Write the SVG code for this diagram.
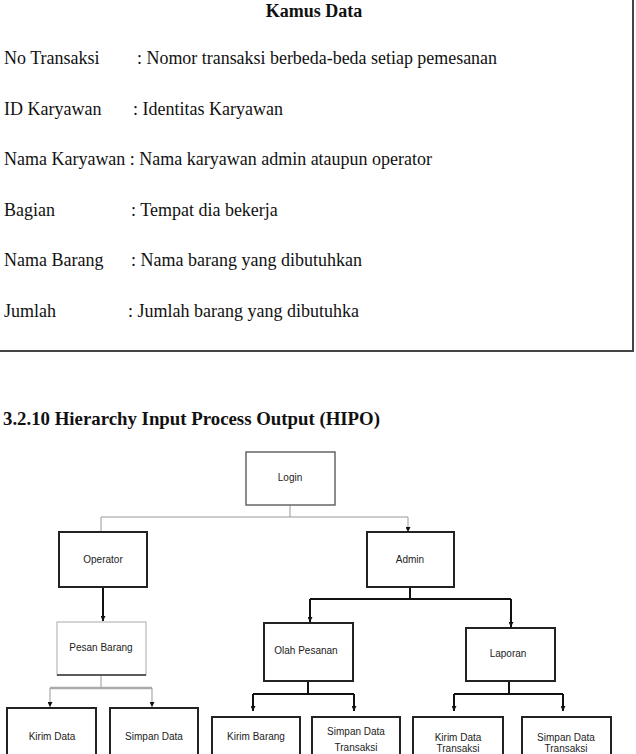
<svg xmlns="http://www.w3.org/2000/svg" width="636" height="754" viewBox="0 0 636 754">
<style>
.kd{font-family:"Liberation Serif","Times New Roman",serif;font-size:18px;fill:#111}
.kdb{font-family:"Liberation Serif","Times New Roman",serif;font-size:18px;font-weight:bold;fill:#111}
.h{font-family:"Liberation Serif",Cambria,serif;font-size:19px;font-weight:bold;fill:#111}
.lb{font-family:"Liberation Sans",Arial,sans-serif;font-size:10px;fill:#222;text-anchor:middle}
.box{fill:#fff;stroke:#222;stroke-width:2}
.thin{fill:#fff;stroke:#666;stroke-width:1.5}
.lt{fill:#fff;stroke:#aaa;stroke-width:1}
.c1{fill:none;stroke:#999;stroke-width:1}
.c2{fill:none;stroke:#111;stroke-width:2}
.c3{fill:none;stroke:#aaa;stroke-width:2.5}
</style>
<defs>
<marker id="ah" viewBox="0 0 10 10" refX="10" refY="5" markerWidth="5" markerHeight="5" markerUnits="userSpaceOnUse" orient="auto">
<path d="M0,0 L10,5 L0,10 z" fill="#111"/>
</marker>
</defs>
<g id="kamus">
<path d="M633,0 V351 H0" fill="none" stroke="#444" stroke-width="2"/>
<text class="kdb" x="314" y="17" text-anchor="middle">Kamus Data</text>
<text class="kd" x="4" y="64">No Transaksi</text>
<text class="kd" x="137" y="64" textLength="360" lengthAdjust="spacingAndGlyphs">: Nomor transaksi berbeda-beda setiap pemesanan</text>
<text class="kd" x="4" y="115">ID Karyawan</text>
<text class="kd" x="133" y="115">:  Identitas Karyawan</text>
<text class="kd" x="4" y="165" textLength="428" lengthAdjust="spacingAndGlyphs">Nama Karyawan : Nama karyawan admin ataupun operator</text>
<text class="kd" x="4" y="216">Bagian</text>
<text class="kd" x="131" y="216">: Tempat dia bekerja</text>
<text class="kd" x="4" y="266">Nama Barang</text>
<text class="kd" x="131" y="266">: Nama barang yang dibutuhkan</text>
<text class="kd" x="4" y="317">Jumlah</text>
<text class="kd" x="128" y="317">: Jumlah barang yang dibutuhka</text>
</g>
<text class="h" x="3" y="425" textLength="377" lengthAdjust="spacingAndGlyphs">3.2.10 Hierarchy Input Process Output (HIPO)</text>
<g id="connectors">
<path class="c1" d="M290,505 V517 M101,517 H408"/>
<path class="c1" d="M101,517 V532 M408,517 V532" marker-end="url(#ah)"/>
<path class="c2" d="M103,587 V621" marker-end="url(#ah)"/>
<path class="c1" d="M101,675 V688"/>
<path class="c3" d="M50,688 H152"/>
<path class="c1" d="M50,688 V707" marker-end="url(#ah)"/>
<path class="c1" d="M152,688 V707" marker-end="url(#ah)"/>
<path class="c2" d="M410,587 V599 M310,599 H511"/>
<path class="c2" d="M310,599 V622" marker-end="url(#ah)"/>
<path class="c2" d="M511,599 V627" marker-end="url(#ah)"/>
<path class="c2" d="M308,681 V694 M253,694 H354"/>
<path class="c2" d="M253,694 V711" marker-end="url(#ah)"/>
<path class="c2" d="M354,694 V711" marker-end="url(#ah)"/>
<path class="c2" d="M509,681 V694 M454,694 H563"/>
<path class="c2" d="M454,694 V711" marker-end="url(#ah)"/>
<path class="c2" d="M563,694 V711" marker-end="url(#ah)"/>
</g>
<g id="login"><rect class="thin" x="246" y="452" width="89" height="53"/><text class="lb" x="290" y="481">Login</text></g>
<g id="operator"><rect class="box" x="59" y="532" width="88" height="55"/><text class="lb" x="103" y="563">Operator</text></g>
<g id="admin"><rect class="box" x="367" y="532" width="87" height="55"/><text class="lb" x="410" y="563">Admin</text></g>
<g id="pesan-barang"><rect class="lt" x="57" y="622" width="89" height="53"/><path d="M57,675 H146" stroke="#333" stroke-width="1.5"/><text class="lb" x="101" y="651">Pesan Barang</text></g>
<g id="olah-pesanan"><rect class="box" x="264" y="623" width="89" height="58"/><text class="lb" x="306" y="654">Olah Pesanan</text></g>
<g id="laporan"><rect class="box" x="466" y="628" width="89" height="53"/><text class="lb" x="508" y="657">Laporan</text></g>
<g id="kirim-data"><rect class="box" x="7" y="708" width="89" height="60"/><text class="lb" x="52" y="740">Kirim Data</text></g>
<g id="simpan-data"><rect class="box" x="110" y="708" width="88" height="60"/><text class="lb" x="154" y="740">Simpan Data</text></g>
<g id="kirim-barang"><rect class="box" x="212" y="717" width="88" height="50"/><text class="lb" x="256" y="740">Kirim Barang</text></g>
<g id="simpan-data-transaksi-1"><rect class="box" x="312" y="717" width="88" height="50"/><text class="lb" x="356" y="735">Simpan Data</text><text class="lb" x="356" y="751">Transaksi</text></g>
<g id="kirim-data-transaksi"><rect class="box" x="413" y="717" width="90" height="50"/><text class="lb" x="458" y="741">Kirim Data</text><text class="lb" x="458" y="752">Transaksi</text></g>
<g id="simpan-data-transaksi-2"><rect class="box" x="522" y="717" width="89" height="50"/><text class="lb" x="566" y="741">Simpan Data</text><text class="lb" x="566" y="752">Transaksi</text></g>
</svg>
